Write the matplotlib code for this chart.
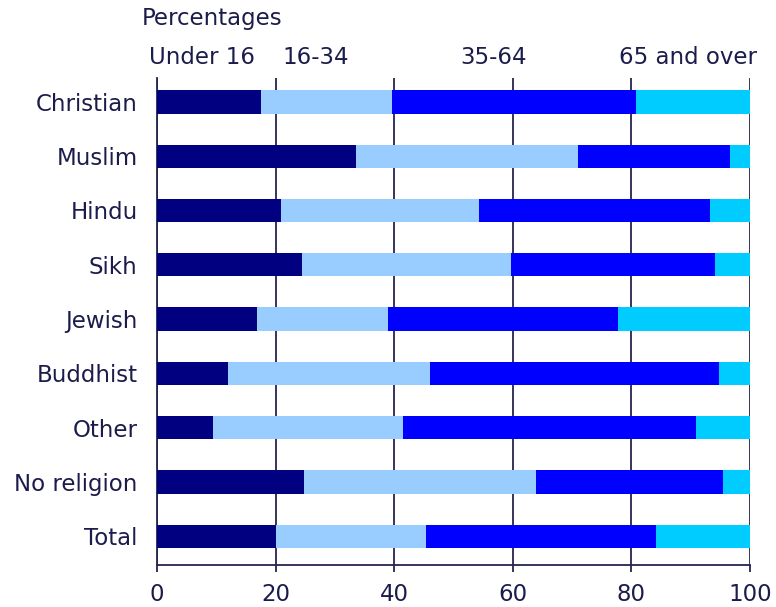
import numpy as np
import matplotlib.pyplot as plt

religions = ["Christian", "Muslim", "Hindu", "Sikh", "Jewish", "Buddhist",
             "Other", "No religion", "Total"]
age_groups = ["Under 16", "16-34", "35-64", "65 and over"]
under16 = [17.5, 33.6, 20.9, 24.5, 16.9, 12.0, 9.4, 24.8, 20.1]
age16_34 = [22.1, 37.4, 33.4, 35.2, 22.1, 34.0, 32.1, 39.1, 25.3]
age35_64 = [41.2, 25.6, 39.0, 34.4, 38.7, 48.8, 49.4, 31.5, 38.7]
over65 = [19.2, 3.4, 6.7, 5.9, 22.3, 5.2, 9.1, 4.6, 15.9]

colors = ["#000080", "#99ccff", "#0000ff", "#00ccff"]
txt = "#1c1c4c"
fs = 16.5

plt.rcParams['font.family'] = ['DejaVu Sans']
fig = plt.figure(figsize=(7.76, 6.07), dpi=100)
ax = fig.add_axes([0.2023, 0.0692, 0.7642, 0.8023])

y = np.arange(len(religions))
left = np.zeros(len(religions))
for vals, c in zip([under16, age16_34, age35_64, over65], colors):
    ax.barh(y, vals, left=left, height=0.43, color=c, zorder=3)
    left += np.array(vals)

ax.set_xlim(0, 100)
ax.set_ylim(len(religions) - 1 + 0.53, -0.44)
ax.set_xticks(np.arange(0, 101, 20))
ax.set_yticks(y)
ax.set_yticklabels(religions)
ax.xaxis.grid(True, color="#25254f", linewidth=1.3, zorder=1)
ax.tick_params(axis='x', length=5, width=1.3, color="#25254f",
               labelsize=fs, labelcolor=txt, pad=8)
ax.tick_params(axis='y', length=0, labelsize=fs, labelcolor=txt, pad=14)
for s in ["top", "right"]:
    ax.spines[s].set_visible(False)
for s in ["left", "bottom"]:
    ax.spines[s].set_color("#25254f")
    ax.spines[s].set_linewidth(1.3)

label_x = [7.6, 26.8, 56.7, 89.5]
for lx, lab in zip(label_x, age_groups):
    ax.text(lx, 1.043, lab, transform=ax.get_xaxis_transform(),
            ha="center", va="center", fontsize=fs, color=txt)

fig.text(142 / 776, 1 - 18 / 607, "Percentages", ha="left", va="center",
         fontsize=fs, color=txt)

fig.savefig("out.png", dpi=100)
